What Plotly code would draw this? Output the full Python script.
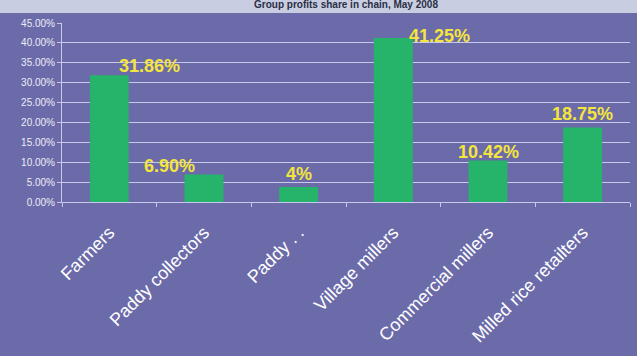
import plotly.graph_objects as go

categories = ["Farmers", "Paddy collectors", "Paddy . .", "Village millers",
              "Commercial millers", "Milled rice retailters"]
values = [31.86, 6.90, 3.8, 41.25, 10.42, 18.75]
labels = ["31.86%", "6.90%", "4%", "41.25%", "10.42%", "18.75%"]
title_text = "Group profits share in chain, May 2008"

# label styling offsets (pixels)
label_dx = [40, -35, 0, 46, 0, 0]
label_dy = [-3, -3, 1, -10, -3, 1]

BG = "#6C6BAA"
GRID = "#C9C8EC"

fig = go.Figure()
fig.add_trace(go.Bar(
    x=categories, y=values,
    marker=dict(color="#25B46A", line=dict(width=0)),
    width=0.41,
))

for c, v, t, dx, dy in zip(categories, values, labels, label_dx, label_dy):
    fig.add_annotation(x=c, y=v, text="<b>" + t + "</b>", showarrow=False,
                       xanchor="center", yanchor="bottom", xshift=dx, yshift=dy,
                       font=dict(family="Arial", size=18, color="#F4E53C"))

fig.update_layout(
    width=637, height=356,
    margin=dict(l=62, r=7, t=23, b=154),
    paper_bgcolor=BG, plot_bgcolor=BG,
    showlegend=False,
    font=dict(family="Arial", color="white"),
)
fig.update_yaxes(
    range=[0, 45], dtick=5, tickformat=".2f", ticksuffix="%",
    showgrid=True, gridcolor=GRID, gridwidth=1,
    showline=True, linecolor=GRID, linewidth=1,
    ticks="outside", ticklen=4, tickcolor=GRID,
    tickfont=dict(family="Arial", size=10, color="#EDEDF5"),
    zeroline=False,
)
fig.update_xaxes(
    tickangle=-45, tickson="boundaries",
    showline=True, linecolor=GRID, linewidth=1,
    ticks="outside", ticklen=4, tickcolor=GRID,
    ticklabelstandoff=12,
    tickfont=dict(family="Arial", size=18, color="white"),
)
# title band
fig.add_shape(type="rect", xref="paper", yref="paper",
              x0=-0.2, x1=1.1, y0=1 + 10 / 179, y1=1 + 30 / 179,
              fillcolor="#C9CDE2", line=dict(width=0), layer="above")
fig.add_annotation(text="<b>" + title_text + "</b>", xref="paper", yref="paper",
                   x=0.5, y=1 + 11 / 179, xanchor="center", yanchor="bottom",
                   showarrow=False, font=dict(family="Arial", size=10, color="#2A2F45"))

fig.write_html("out.html")
